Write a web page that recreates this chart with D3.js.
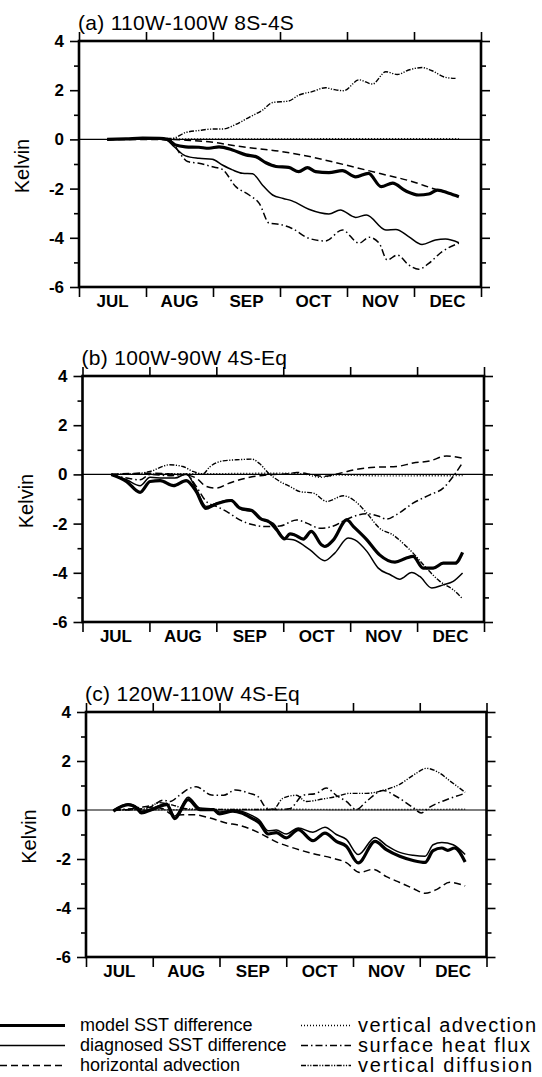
<!DOCTYPE html>
<html>
<head>
<meta charset="utf-8">
<script src="https://cdn.jsdelivr.net/npm/d3@7/dist/d3.min.js"></script>
<style>
  html, body { margin: 0; padding: 0; background: #fff; }
  svg { display: block; font-family: "Liberation Sans", Arial, Helvetica, sans-serif; }
</style>
</head>
<body>
<svg id="chart" width="542" height="1077"></svg>
<script>
// ---------------- DATA ----------------
const months = ["JUL", "AUG", "SEP", "OCT", "NOV", "DEC"];
const yTicks = [-6, -4, -2, 0, 2, 4];
const yMinor = [-5, -3, -1, 1, 3];
const titles = ["(a) 110W-100W 8S-4S", "(b) 100W-90W 4S-Eq", "(c) 120W-110W 4S-Eq"];
const seriesNames = ["model SST difference", "diagnosed SST difference", "horizontal advection",
                     "vertical advection", "surface heat flux", "vertical diffusion"];

// x = months since 1 July, y = Kelvin
// Panel (a)
const a_model = [[0.42,0],[0.7,0.02],[0.95,0.05],[1.2,0.04],[1.32,0],[1.44,-0.23],[1.59,-0.3],[1.79,-0.32],[1.94,-0.36],[2.09,-0.3],[2.29,-0.43],[2.49,-0.63],[2.64,-0.7],[2.79,-0.95],[2.94,-1.1],[3.13,-1.14],[3.28,-1.31],[3.41,-1.15],[3.53,-1.31],[3.73,-1.35],[3.93,-1.27],[4.13,-1.52],[4.32,-1.38],[4.51,-1.92],[4.68,-1.78],[4.88,-2.1],[5.07,-2.26],[5.22,-2.22],[5.35,-2.06],[5.52,-2.19],[5.67,-2.33]];
const a_diag = [[0.42,0],[0.8,0.01],[1.1,0.03],[1.3,-0.02],[1.42,-0.3],[1.59,-0.67],[1.79,-0.77],[1.99,-0.81],[2.14,-1.04],[2.29,-1.24],[2.44,-1.38],[2.59,-1.4],[2.74,-1.86],[2.89,-2.26],[3.05,-2.4],[3.18,-2.5],[3.43,-2.84],[3.73,-3.03],[3.9,-2.87],[4.13,-3.17],[4.29,-3.07],[4.58,-3.68],[4.73,-3.66],[4.92,-3.95],[5.12,-4.27],[5.32,-4.09],[5.47,-4.05],[5.67,-4.2]];
const a_hadv = [[0.42,0],[1.3,0],[1.6,-0.03],[1.94,-0.1],[2.44,-0.3],[2.99,-0.48],[3.28,-0.61],[3.98,-1.04],[4.48,-1.38],[4.98,-1.72],[5.32,-2.03],[5.67,-2.3]];
const a_vadv = [[0.42,0],[1.5,0.02],[3.0,0.02],[4.5,0.03],[5.67,0.03]];
const a_shf = [[0.42,0],[1.0,0.03],[1.35,0],[1.52,-0.63],[1.62,-0.9],[1.79,-0.97],[1.99,-1.11],[2.14,-1.22],[2.34,-1.92],[2.54,-2.26],[2.69,-2.6],[2.84,-3.41],[2.99,-3.45],[3.18,-3.62],[3.43,-4.02],[3.68,-4.13],[3.93,-3.68],[4.18,-4.22],[4.33,-3.98],[4.48,-4.22],[4.6,-4.9],[4.75,-4.7],[4.92,-5.1],[5.07,-5.28],[5.22,-5.04],[5.42,-4.56],[5.67,-4.22]];
const a_vdif = [[0.42,0],[1.2,0.03],[1.39,0.04],[1.59,0.28],[1.79,0.36],[1.99,0.42],[2.14,0.42],[2.34,0.61],[2.54,0.9],[2.74,1.19],[2.89,1.5],[3.13,1.56],[3.28,1.8],[3.48,1.94],[3.68,2.1],[3.8,2.03],[3.95,1.98],[4.18,2.42],[4.38,2.25],[4.58,2.75],[4.75,2.64],[4.92,2.82],[5.12,2.92],[5.27,2.79],[5.47,2.52],[5.62,2.48]];

// Panel (b)
const b_model = [[0.43,0],[0.66,-0.29],[0.86,-0.73],[1.01,-0.29],[1.16,-0.25],[1.36,-0.46],[1.55,-0.25],[1.7,-0.7],[1.84,-1.38],[2.0,-1.2],[2.22,-1.06],[2.35,-1.37],[2.53,-1.47],[2.65,-1.78],[2.8,-1.95],[2.9,-2.25],[3.02,-2.62],[3.1,-2.42],[3.17,-2.46],[3.3,-2.63],[3.42,-2.32],[3.57,-2.86],[3.62,-2.93],[3.75,-2.66],[3.95,-1.85],[4.05,-2.12],[4.25,-2.66],[4.44,-3.27],[4.67,-3.57],[4.84,-3.4],[4.94,-3.33],[5.09,-3.81],[5.24,-3.81],[5.39,-3.61],[5.57,-3.61],[5.68,-3.17]];
const b_diag = [[0.43,0],[0.66,-0.22],[0.86,-0.46],[1.01,-0.12],[1.2,-0.15],[1.38,-0.15],[1.55,0.02],[1.7,-0.6],[1.85,-1.3],[2.0,-1.17],[2.22,-1.03],[2.38,-1.44],[2.55,-1.51],[2.7,-1.85],[2.85,-1.99],[3.02,-2.62],[3.15,-2.66],[3.4,-3.07],[3.62,-3.51],[3.77,-3.2],[3.97,-2.59],[4.07,-2.66],[4.25,-3.13],[4.42,-3.81],[4.6,-4.08],[4.74,-4.26],[4.92,-3.99],[5.04,-4.15],[5.22,-4.62],[5.39,-4.49],[5.54,-4.35],[5.68,-4.01]];
const b_hadv = [[0.43,0],[0.96,0.05],[1.3,0.02],[1.55,-0.02],[1.7,-0.15],[1.85,-0.49],[2.0,-0.56],[2.2,-0.35],[2.45,-0.15],[2.75,-0.02],[3.1,0.03],[3.2,0.08],[3.45,-0.02],[3.6,-0.08],[3.85,0.05],[4.1,0.21],[4.39,0.29],[4.69,0.32],[4.94,0.46],[5.19,0.55],[5.44,0.75],[5.68,0.66]];
const b_vadv = [[0.43,0],[1.0,0.02],[2.0,0.03],[3.0,0.05],[3.3,0.02],[3.55,-0.12],[3.8,-0.03],[4.5,-0.06],[5.68,-0.05]];
const b_shf = [[0.43,0],[0.66,-0.15],[0.86,-0.22],[1.01,0.0],[1.3,-0.05],[1.55,0],[1.7,-0.49],[1.85,-1.1],[2.0,-1.3],[2.15,-1.5],[2.35,-1.85],[2.55,-2.05],[2.75,-2.12],[2.95,-2.1],[3.2,-1.85],[3.35,-1.98],[3.55,-2.19],[3.75,-2.1],[3.95,-1.82],[4.25,-1.6],[4.44,-1.71],[4.54,-1.82],[4.69,-1.64],[4.94,-1.17],[5.19,-0.83],[5.39,-0.56],[5.54,-0.08],[5.68,0.48]];
const b_vdif = [[0.43,0],[0.75,0.02],[1.01,0.12],[1.3,0.39],[1.5,0.32],[1.65,0.12],[1.8,0.02],[1.9,0.3],[2.1,0.55],[2.35,0.6],[2.53,0.62],[2.65,0.43],[2.78,0.05],[2.95,-0.29],[3.1,-0.49],[3.25,-0.7],[3.45,-0.76],[3.65,-1.1],[3.9,-0.87],[4.05,-1.04],[4.25,-1.58],[4.44,-2.19],[4.64,-2.46],[4.79,-2.8],[4.94,-3.2],[5.14,-3.81],[5.34,-4.35],[5.54,-4.69],[5.67,-5.03]];

// Panel (c)
const c_model = [[0.41,-0.05],[0.63,0.22],[0.76,0.08],[0.83,-0.12],[0.98,0.01],[1.11,0.15],[1.21,0.22],[1.33,-0.35],[1.53,0.42],[1.71,0.01],[1.91,0.01],[2.0,-0.16],[2.2,-0.05],[2.33,-0.12],[2.48,-0.33],[2.6,-0.53],[2.73,-0.98],[2.85,-0.92],[3.0,-1.14],[3.18,-0.8],[3.4,-1.25],[3.58,-0.94],[3.75,-1.28],[3.9,-1.48],[4.08,-2.16],[4.33,-1.28],[4.5,-1.62],[4.7,-1.89],[4.9,-2.06],[5.08,-2.14],[5.2,-1.66],[5.33,-1.55],[5.42,-1.65],[5.52,-1.55],[5.68,-2.12]];
const c_diag = [[0.41,0],[0.63,0.25],[0.76,0.12],[0.83,-0.05],[0.98,0.05],[1.11,0.2],[1.21,0.28],[1.33,-0.25],[1.53,0.52],[1.71,0.08],[1.91,0.05],[2.0,-0.08],[2.2,0.0],[2.33,-0.05],[2.48,-0.22],[2.6,-0.42],[2.73,-0.85],[2.85,-0.82],[3.0,-0.98],[3.18,-0.73],[3.4,-0.91],[3.58,-0.7],[3.75,-1.0],[3.9,-1.2],[4.08,-1.82],[4.33,-1.12],[4.5,-1.44],[4.7,-1.73],[4.9,-1.85],[5.08,-1.89],[5.2,-1.42],[5.33,-1.33],[5.5,-1.42],[5.68,-1.82]];
const c_hadv = [[0.41,0],[0.76,0.02],[1.0,0.12],[1.15,0.05],[1.31,-0.2],[1.61,-0.19],[1.86,-0.33],[2.1,-0.53],[2.3,-0.63],[2.6,-0.94],[2.85,-1.3],[3.05,-1.5],[3.4,-1.78],[3.7,-1.97],[3.9,-2.15],[4.1,-2.55],[4.3,-2.42],[4.5,-2.72],[4.7,-2.96],[4.9,-3.2],[5.08,-3.4],[5.25,-3.25],[5.45,-2.95],[5.68,-3.1]];
const c_vadv = [[0.41,0],[2.0,0.02],[3.0,0.03],[4.0,0.02],[5.68,0.03]];
const c_shf = [[0.41,0],[0.8,0.1],[1.0,0.2],[1.16,0.4],[1.26,0.35],[1.4,0.6],[1.55,0.88],[1.65,0.95],[1.88,0.61],[2.06,0.6],[2.24,0.82],[2.45,0.68],[2.58,0.54],[2.71,0.07],[2.85,0.02],[3.05,0.05],[3.25,0.6],[3.45,0.68],[3.6,0.9],[3.75,0.6],[3.9,0.35],[4.05,0.02],[4.2,0.35],[4.45,0.8],[4.65,0.55],[4.9,0.1],[5.02,-0.12],[5.15,0.12],[5.4,0.42],[5.68,0.68]];
const c_vdif = [[0.41,0],[0.9,0.05],[1.1,0.3],[1.3,0.2],[1.5,0.05],[2.0,0.02],[2.8,0.02],[2.95,0.48],[3.15,0.6],[3.3,0.35],[3.55,0.45],[3.75,0.55],[3.95,0.68],[4.2,0.68],[4.45,0.8],[4.7,1.05],[4.92,1.45],[5.1,1.7],[5.27,1.55],[5.47,1.15],[5.68,0.72]];

// ---------------- STYLES ----------------
const styles = [
  { w: 3.2, dash: null },            // model SST difference
  { w: 1.5, dash: null },            // diagnosed SST difference
  { w: 1.5, dash: "7,4" },           // horizontal advection
  { w: 1.4, dash: "1,2" },           // vertical advection
  { w: 1.5, dash: "7,3,1.5,3" },     // surface heat flux
  { w: 1.4, dash: "5,1.5,1.2,1.5,1.2,1.5" } // vertical diffusion
];

const panels = [
  { title: titles[0], box: [79, 41, 481, 287],  data: [a_model, a_diag, a_hadv, a_vadv, a_shf, a_vdif] },
  { title: titles[1], box: [82.5, 376, 484, 622], data: [b_model, b_diag, b_hadv, b_vadv, b_shf, b_vdif] },
  { title: titles[2], box: [86, 712, 486.5, 957], data: [c_model, c_diag, c_hadv, c_vadv, c_shf, c_vdif] }
];

const svg = d3.select("#chart");
const FONT = '"Liberation Sans", Arial, Helvetica, sans-serif';

panels.forEach(p => {
  const [L, T, R, B] = p.box;
  const x = d3.scaleLinear().domain([0, 6]).range([L, R]);
  const y = d3.scaleLinear().domain([-6, 4]).range([B, T]);
  const g = svg.append("g");

  // zero line
  g.append("line").attr("x1", L).attr("x2", R).attr("y1", y(0)).attr("y2", y(0))
    .attr("stroke", "#000").attr("stroke-width", 1.2);

  // series
  const line = d3.line().x(d => x(d[0])).y(d => y(d[1])).curve(d3.curveMonotoneX);
  [3, 2, 5, 4, 1, 0].forEach(i => {
    const s = styles[i];
    g.append("path").datum(p.data[i]).attr("d", line)
      .attr("fill", "none").attr("stroke", "#000")
      .attr("stroke-width", s.w)
      .attr("stroke-linejoin", "round")
      .attr("stroke-dasharray", s.dash);
  });

  // axes ticks
  const monthTicks = d3.range(0, 7);
  const axB = d3.axisBottom(x).tickValues(monthTicks).tickSize(10).tickFormat("");
  const axT = d3.axisTop(x).tickValues(monthTicks).tickSize(9).tickFormat("");
  const axL = d3.axisLeft(y).tickValues(yTicks).tickSize(9).tickPadding(6).tickFormat(d3.format("d"));
  const axLm = d3.axisLeft(y).tickValues(yMinor).tickSize(5).tickFormat("");
  const axR = d3.axisRight(y).tickValues(yTicks).tickSize(9).tickFormat("");
  const axRm = d3.axisRight(y).tickValues(yMinor).tickSize(5).tickFormat("");

  const place = (ax, tx, ty) => {
    const a = g.append("g").attr("transform", `translate(${tx},${ty})`).call(ax);
    a.select(".domain").remove();
    a.selectAll(".tick line").attr("stroke", "#000").attr("stroke-width", 1.6);
    return a;
  };
  place(axB, 0, B);
  place(axT, 0, T);
  const left = place(axL, L, 0);
  left.selectAll(".tick text")
    .attr("font-family", FONT).attr("font-size", 17).attr("font-weight", "bold").attr("fill", "#000")
    .text(d => d < 0 ? "-" + Math.abs(d) : d);
  place(axLm, L, 0);
  place(axR, R, 0);
  place(axRm, R, 0);

  // frame
  g.append("rect").attr("x", L).attr("y", T).attr("width", R - L).attr("height", B - T)
    .attr("fill", "none").attr("stroke", "#000").attr("stroke-width", 2.6);

  // month labels
  g.selectAll(".mlab").data(months).enter().append("text")
    .attr("x", (d, i) => x(i + 0.5)).attr("y", B + 20)
    .attr("text-anchor", "middle").attr("font-size", 17).attr("font-weight", "bold")
    .attr("font-family", FONT).text(d => d);

  // title
  g.append("text").attr("x", L - 1).attr("y", T - 11)
    .attr("font-size", 21).attr("letter-spacing", 0.3).attr("font-family", FONT).text(p.title);

  // y label
  g.append("text").attr("transform", `translate(${L - 55},${(T + B) / 2 + 2}) rotate(-90)`)
    .attr("text-anchor", "middle").attr("dominant-baseline", "middle")
    .attr("font-size", 20).attr("font-family", FONT).text("Kelvin");
});

// ---------------- LEGEND ----------------
const legendRows = [1025.5, 1045.5, 1065.5];
const legendCols = [{ x1: 0, x2: 65, tx: 80, fs: 18 }, { x1: 301, x2: 351, tx: 358, fs: 20 }];
const rightWidths = [178, 172, 174];
seriesNames.forEach((name, i) => {
  const c = Math.floor(i / 3);
  const col = legendCols[c];
  const yy = legendRows[i % 3];
  const s = styles[i];
  svg.append("line").attr("x1", col.x1).attr("x2", col.x2).attr("y1", yy).attr("y2", yy)
    .attr("stroke", "#000").attr("stroke-width", s.w).attr("stroke-dasharray", s.dash);
  const t = svg.append("text").attr("x", col.tx).attr("y", yy + 1).attr("dominant-baseline", "middle")
    .attr("font-size", col.fs).attr("font-family", FONT).text(name);
  if (c === 1) t.attr("textLength", rightWidths[i % 3]).attr("lengthAdjust", "spacing");
});
</script>
</body>
</html>
